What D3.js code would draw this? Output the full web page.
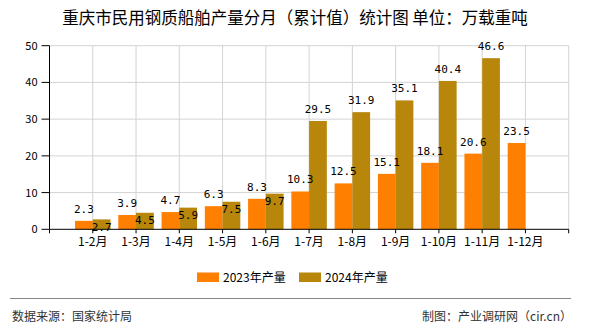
<!DOCTYPE html>
<html><head><meta charset="utf-8">
<script src="https://cdn.jsdelivr.net/npm/d3@7"></script>
<style>
html,body{margin:0;padding:0;background:#fff;}
svg{display:block;}
</style>
</head><body>
<svg id="chart" width="590" height="330"></svg>
<script>
const categories = ["1-2月","1-3月","1-4月","1-5月","1-6月","1-7月","1-8月","1-9月","1-10月","1-11月","1-12月"];
const values2023 = [2.3,3.9,4.7,6.3,8.3,10.3,12.5,15.1,18.1,20.6,23.5];
const values2024 = [2.7,4.5,5.9,7.5,9.7,29.5,31.9,35.1,40.4,46.6,null];
const yTicks = [0,10,20,30,40,50];
const seriesNames = ["2023年产量","2024年产量"];
const seriesColors = ["#FF7F00","#B8860B"];
const titleText = "重庆市民用钢质船舶产量分月（累计值）统计图 单位：万载重吨";
const sourceText = "数据来源：国家统计局";
const creditText = "制图：产业调研网（cir.cn）";

(function(){
const svg = d3.select("#chart");
const pLeft = 49.5, pRight = 568.7, pTop = 45.7, pBottom = 229.3;
const step = (pRight - pLeft) / (categories.length + 1);

const x = d3.scaleBand().domain(categories).range([pLeft + step/2, pRight - step/2]).padding(0);
const y = d3.scaleLinear().domain([0, 50]).range([pBottom, pTop]);
const cx = c => x(c) + x.bandwidth()/2;
const gridX = d3.range(categories.length + 2).map(i => pLeft + i*step);

// title
svg.append("text").attr("x", 295).attr("y", 23.5).attr("text-anchor","middle")
  .style("font-family","'Noto Sans CJK SC'").style("font-size","16.5px").style("font-weight","400")
  .attr("fill","#000").text(titleText);

// grid
const grid = svg.append("g");
grid.selectAll("line.h").data(yTicks.filter(v=>v>0)).join("line")
  .attr("x1", pLeft).attr("x2", pRight).attr("y1", d=>y(d)).attr("y2", d=>y(d))
  .attr("stroke","#d3d3d3").attr("stroke-width",1);
grid.selectAll("line.v").data(gridX.slice(1)).join("line")
  .attr("x1", d=>d).attr("x2", d=>d).attr("y1", pTop).attr("y2", pBottom)
  .attr("stroke","#d3d3d3").attr("stroke-width",1);

// bars
const barW = x.bandwidth()*0.41;
const bars = svg.append("g");
bars.selectAll("rect.a").data(categories.map((c,i)=>({c, v: values2023[i]}))).join("rect")
  .attr("x", d=>cx(d.c)-barW).attr("width", barW)
  .attr("y", d=>y(d.v)).attr("height", d=>pBottom - y(d.v)).attr("fill", seriesColors[0]);
bars.selectAll("rect.b").data(categories.map((c,i)=>({c, v: values2024[i]})).filter(d=>d.v!=null)).join("rect")
  .attr("x", d=>cx(d.c)).attr("width", barW)
  .attr("y", d=>y(d.v)).attr("height", d=>pBottom - y(d.v)).attr("fill", seriesColors[1]);

// axes
const axisG = svg.append("g");
axisG.append("line").attr("x1", pLeft).attr("x2", pLeft).attr("y1", pTop).attr("y2", pBottom).attr("stroke","#000");
axisG.append("line").attr("x1", pLeft).attr("x2", pRight).attr("y1", pBottom).attr("y2", pBottom).attr("stroke","#000");
axisG.selectAll("line.yt").data(yTicks).join("line")
  .attr("x1", pLeft-8).attr("x2", pLeft).attr("y1", d=>y(d)).attr("y2", d=>y(d)).attr("stroke","#000");
axisG.selectAll("text.yl").data(yTicks).join("text")
  .attr("x", pLeft-12).attr("y", d=>y(d)+4).attr("text-anchor","end")
  .style("font-family","'Noto Sans CJK SC'").style("font-size","11px").attr("fill","#000").text(d=>d);
axisG.selectAll("line.xt").data(gridX).join("line")
  .attr("x1", d=>d).attr("x2", d=>d).attr("y1", pBottom).attr("y2", pBottom+4).attr("stroke","#000");
axisG.selectAll("text.xl").data(categories).join("text")
  .attr("x", d=>cx(d)).attr("y", pBottom+17).attr("text-anchor","middle")
  .style("font-family","'Noto Sans CJK SC'").style("font-size","12px").attr("fill","#000").text(d=>d);

// value labels
const lab = svg.append("g").style("font-family","'DejaVu Sans Mono'").style("font-size","11px").attr("fill","#000");
categories.forEach((c,i)=>{
  const a = values2023[i], b = values2024[i];
  lab.append("text").attr("x", cx(c)-barW/2).attr("y", y(a)-8).attr("text-anchor","middle").text(a.toFixed(1));
  if (b != null) {
    const inside = Math.abs(y(b) - y(a)) < 12;
    lab.append("text").attr("x", cx(c)+barW/2).attr("y", inside ? y(b)+11.5 : y(b)-8)
      .attr("text-anchor","middle").text(b.toFixed(1));
  }
});

// legend
const legX = [197, 299];
const leg = svg.append("g");
seriesNames.forEach((n,i)=>{
  leg.append("rect").attr("x", legX[i]).attr("y", 272.5).attr("width", 22).attr("height", 9.5).attr("fill", seriesColors[i]);
  leg.append("text").attr("x", legX[i]+26).attr("y", 281.5)
    .style("font-family","'Noto Sans CJK SC'").style("font-size","12px").attr("fill","#000").text(n);
});

// footer
svg.append("line").attr("x1",10).attr("x2",571).attr("y1",298.5).attr("y2",298.5).attr("stroke","#888").attr("stroke-width",1);
svg.append("text").attr("x",12).attr("y",320.5)
  .style("font-family","'Noto Sans CJK SC'").style("font-size","12px").attr("fill","#333").text(sourceText);
svg.append("text").attr("x",572).attr("y",320.5).attr("text-anchor","end")
  .style("font-family","'Noto Sans CJK SC'").style("font-size","12px").attr("fill","#333").text(creditText);
})();
</script>
</body></html>
